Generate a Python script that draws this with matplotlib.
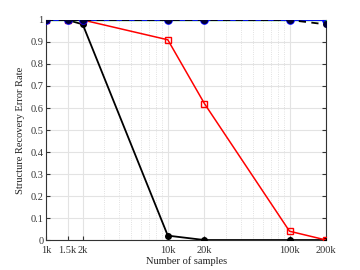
import matplotlib
matplotlib.use("Agg")
import matplotlib.pyplot as plt
from matplotlib.ticker import FixedLocator, NullFormatter

samples = [1000, 1500, 2000, 10000, 20000, 100000, 200000]
tick_labels = ["1k", "1.5k", "2k", "10k", "20k", "100k", "200k"]
black_solid = [1, 1, 0.98, 0.02, 0, 0, 0]
red_series = [1, 1, 1, 0.91, 0.62, 0.04, 0]
blue_series = [1, 1, 1, 1, 1, 1, 1]
green_series = [1, 1, 1, 1, 1, 1, 1]
black_dashed = [1, 1, 1, 1, 1, 1, 0.98]
yticks = [0, 0.1, 0.2, 0.3, 0.4, 0.5, 0.6, 0.7, 0.8, 0.9, 1]
ytick_labels = ["0", "0.1", "0.2", "0.3", "0.4", "0.5", "0.6", "0.7", "0.8", "0.9", "1"]

plt.rcParams['font.family'] = ['Liberation Serif', 'DejaVu Serif']

fig = plt.figure(figsize=(3.6, 2.7), dpi=100)
ax = fig.add_axes([0.128, 0.111, 0.778, 0.815])
ax.set_xscale('log')

ax.plot(samples, black_solid, color='black', lw=1.3, marker='o', ms=4, mfc='black', mec='black', zorder=3)
ax.plot(samples, red_series, color='red', lw=1.1, marker='s', ms=4, mfc='none', mec='red', zorder=4)
ax.plot(samples, green_series, color='#22aa22', lw=1.0, marker='s', ms=2.5, mfc='#33bb33', mec='#228822', zorder=5)
ax.plot(samples, blue_series, color='blue', lw=1.3, marker='o', ms=5, mfc='none', mec='blue', mew=1.2, zorder=6)
ax.plot(samples, black_dashed, color='black', lw=1.3, ls=(0, (4, 3)), marker='o', ms=4, mfc='#000033', mec='#000033', zorder=7)

ax.set_xlim(samples[0], samples[-1])
ax.set_ylim(0, 1)
ax.xaxis.set_major_locator(FixedLocator(samples))
ax.set_xticklabels(tick_labels)
minors = [3000, 4000, 5000, 6000, 7000, 8000, 9000, 30000, 40000, 50000, 60000, 70000, 80000, 90000]
ax.xaxis.set_minor_locator(FixedLocator(minors))
ax.xaxis.set_minor_formatter(NullFormatter())
ax.set_yticks(yticks)
ax.set_yticklabels(ytick_labels)

ax.grid(True, which='major', color='#e3e3e3', lw=0.8)
ax.grid(True, which='minor', axis='x', color='#d8d8d8', lw=0.6, ls=':')
ax.set_axisbelow(True)

ax.tick_params(axis='both', which='major', direction='in', length=3, labelsize=7.5, colors='#333333',
               right=True, top=False)
ax.tick_params(axis='x', which='major', pad=4)
ax.tick_params(axis='y', which='major', pad=2)
ax.tick_params(axis='x', which='minor', length=0)
for s in ax.spines.values():
    s.set_color('#333333')
    s.set_linewidth(0.8)
ax.spines['top'].set_visible(False)

ax.set_xlabel("Number of samples", fontsize=7.5, color='#222222', labelpad=1)
ax.set_ylabel("Structure Recovery Error Rate", fontsize=7.5, color='#222222', labelpad=4)

fig.savefig("out.png", dpi=100)
